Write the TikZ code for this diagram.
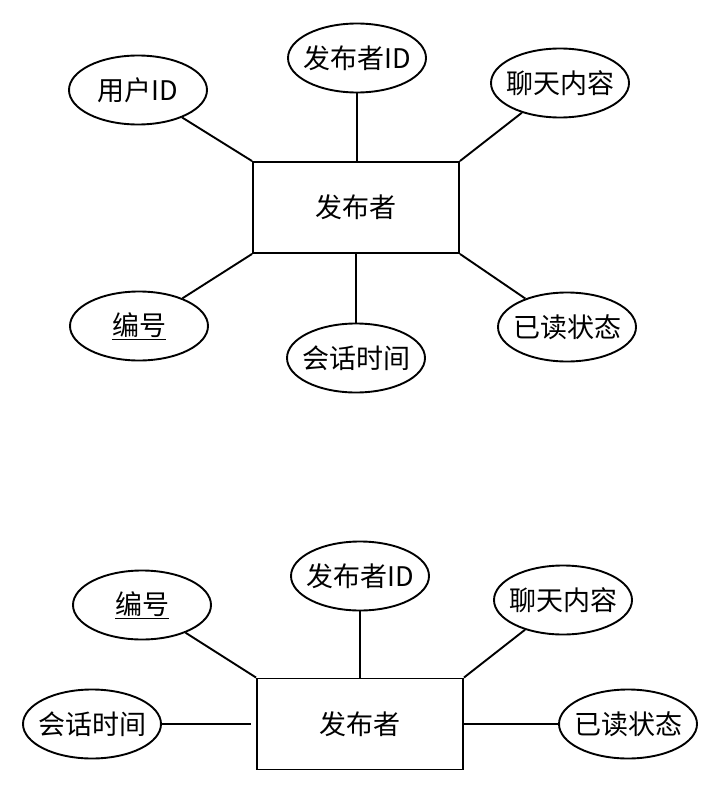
\documentclass[tikz,border=0pt]{standalone}
\usepackage{fontspec}
\setmainfont{Noto Sans CJK SC}
\usetikzlibrary{shapes.geometric}

\begin{document}
\begin{tikzpicture}[
    x=1pt, y=-1pt,
    font=\fontsize{27}{31}\selectfont,
    line width=1.9pt,
    entity/.style={rectangle, draw, minimum width=206pt, minimum height=91pt, inner sep=0pt},
    attr/.style={ellipse, draw, minimum width=138pt, minimum height=69pt,
                 inner xsep=-20pt, inner ysep=0pt},
]
\useasboundingbox (0,0) rectangle (722,795);

% upper entity
\node[entity] (pubA)  at (356,207.5) {发布者};
\node[attr]   (uidA)  at (138,90)    {用户ID};
\node[attr]   (pidA)  at (357,58)    {发布者ID};
\node[attr]   (msgA)  at (560,83)    {聊天内容};
\node[attr]   (noA)   at (139,326)   {\underline{编号}};
\node[attr]   (timeA) at (356,358)   {会话时间};
\node[attr]   (readA) at (567,327)   {已读状态};

\draw (uidA)  -- (pubA.north west);
\draw (pidA)  -- (pidA |- pubA.north);
\draw (msgA)  -- (pubA.north east);
\draw (noA)   -- (pubA.south west);
\draw (timeA) -- (timeA |- pubA.south);
\draw (readA) -- (pubA.south east);

% lower entity
\node[entity] (pubB)  at (360,724) {发布者};
\node[attr]   (noB)   at (142,605) {\underline{编号}};
\node[attr]   (pidB)  at (360,576) {发布者ID};
\node[attr]   (msgB)  at (563,600) {聊天内容};
\node[attr]   (timeB) at (92,724)  {会话时间};
\node[attr]   (readB) at (628,724) {已读状态};

\draw (noB)   -- (pubB.north west);
\draw (pidB)  -- (pubB.north);
\draw (msgB)  -- (pubB.north east);
\draw[shorten >=5pt] (timeB) -- (pubB.west);
\draw (readB) -- (pubB.east);
\end{tikzpicture}
\end{document}
